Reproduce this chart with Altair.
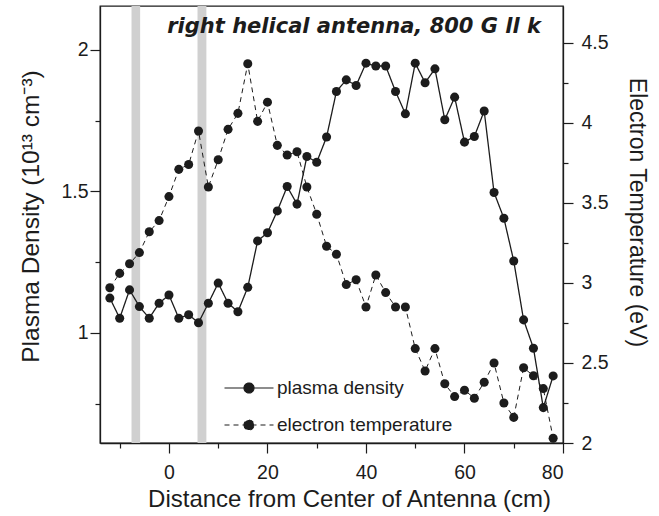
import altair as alt
import pandas as pd

# Probe positions along the axis (cm from antenna centre)
distance_cm = [-12, -10, -8, -6, -4, -2, 0, 2, 4, 6,
               8, 10, 12, 14, 16, 18, 20, 22, 24, 26,
               28, 30, 32, 34, 36, 38, 40, 42, 44, 46,
               48, 50, 52, 54, 56, 58, 60, 62, 64, 66,
               68, 70, 72, 74, 76, 78]

# Plasma density (10^13 cm^-3)
density = [1.123, 1.052, 1.152, 1.093, 1.052, 1.105, 1.134, 1.052, 1.064, 1.036,
           1.105, 1.176, 1.105, 1.075, 1.161, 1.325, 1.354, 1.431, 1.517, 1.455,
           1.623, 1.603, 1.692, 1.853, 1.894, 1.874, 1.953, 1.943, 1.943, 1.853,
           1.774, 1.953, 1.884, 1.933, 1.753, 1.833, 1.674, 1.694, 1.784, 1.496,
           1.405, 1.254, 1.046, 0.946, 0.736, 0.848]

# Electron temperature (eV)
temperature = [2.97, 3.06, 3.12, 3.19, 3.32, 3.39, 3.54, 3.71, 3.74, 3.95,
               3.60, 3.77, 3.96, 4.06, 4.37, 4.01, 4.13, 3.86, 3.80, 3.82,
               3.60, 3.43, 3.23, 3.18, 2.99, 3.02, 2.85, 3.05, 2.94, 2.85,
               2.85, 2.59, 2.45, 2.59, 2.37, 2.29, 2.33, 2.28, 2.38, 2.50,
               2.25, 2.16, 2.47, 2.42, 2.34, 2.03]

# Antenna end rings (cm)
band_start = [-7.6, 5.8]
band_end = [-5.85, 7.6]

series_names = ["plasma density", "electron temperature"]

profile = pd.DataFrame({"distance": distance_cm,
                        "density": density,
                        "temperature": temperature})
rings = pd.DataFrame({"start": band_start, "end": band_end})

INK = "#1c1c1c"
FONT = "Liberation Sans"

# legend glyph: horizontal stroke with a filled dot in the middle
LEGEND_GLYPH = ("M-2.45,0H2.45"
                "M-0.5,0A0.5,0.5,0,1,0,0.5,0A0.5,0.5,0,1,0,-0.5,0Z")

x_enc = alt.X(
    "distance:Q",
    scale=alt.Scale(domain=[-14, 80], nice=False, zero=False),
    axis=alt.Axis(
        values=[-10, 0, 10, 20, 30, 40, 50, 60, 70, 80],
        format="d",
        labelExpr="datum.value % 20 === 0 ? datum.label : ''",
        tickSize={"condition": {"test": "datum.value % 20 === 0", "value": 10}, "value": 5},
        labelPadding=10,
        title="Distance from Center of Antenna (cm)",
        titleFontSize=24,
        titleX=249, titleY=56, titleBaseline="middle", titleAlign="center",
    ),
)

dash = alt.StrokeDash(
    "series:N",
    scale=alt.Scale(domain=series_names, range=[[1, 0], [5, 4]]),
    legend=alt.Legend(
        title=None, orient="none", legendX=138, legendY=371,
        symbolType=LEGEND_GLYPH, symbolSize=400,
        symbolFillColor=INK, symbolStrokeColor=INK, symbolStrokeWidth=1.2,
        labelFont=FONT, labelFontSize=19, labelColor=INK, labelLimit=400,
        labelOffset=17, rowPadding=16, padding=0,
    ),
)

y_density = alt.Y(
    "density:Q",
    scale=alt.Scale(domain=[0.611, 2.155], nice=False, zero=False),
    axis=alt.Axis(
        orient="left",
        values=[0.75, 1, 1.25, 1.5, 1.75, 2],
        format="~g",
        labelExpr="datum.value % 0.5 === 0 ? datum.label : ''",
        tickSize={"condition": {"test": "datum.value % 0.5 === 0", "value": 10}, "value": 5},
        labelPadding=2,
        title="Plasma Density (10¹³ cm⁻³)",
        titleFontSize=24.5,
        titleX=-69, titleY=210, titleBaseline="middle", titleAlign="center",
    ),
)

y_temp = alt.Y(
    "temperature:Q",
    scale=alt.Scale(domain=[2.0, 4.731], nice=False, zero=False),
    axis=alt.Axis(
        orient="right",
        values=[2, 2.25, 2.5, 2.75, 3, 3.25, 3.5, 3.75, 4, 4.25, 4.5],
        format="~g",
        labelExpr="datum.value % 0.5 === 0 ? datum.label : ''",
        tickSize={"condition": {"test": "datum.value % 0.5 === 0", "value": 10}, "value": 5},
        labelPadding=8,
        title="Electron Temperature (eV)",
        titleFontSize=23,
        titleX=73, titleY=206, titleBaseline="middle", titleAlign="center",
    ),
)

ring_marks = alt.Chart(rings).mark_rect(color="#d0d0d0").encode(
    x=alt.X("start:Q", scale=alt.Scale(domain=[-14, 80], nice=False, zero=False)),
    x2="end:Q",
)

base = alt.Chart(profile)

density_line = base.transform_calculate(series="'plasma density'").mark_line(
    color=INK, strokeWidth=1.3
).encode(x=x_enc, y=y_density, strokeDash=dash)
density_pts = base.mark_circle(size=82, color=INK, opacity=1).encode(x=x_enc, y=y_density)

temp_line = base.transform_calculate(series="'electron temperature'").mark_line(
    color=INK, strokeWidth=1.0
).encode(x=x_enc, y=y_temp, strokeDash=dash)
temp_pts = base.mark_circle(size=82, color=INK, opacity=1).encode(x=x_enc, y=y_temp)

density_layer = alt.layer(ring_marks, density_line, density_pts)
temp_layer = alt.layer(temp_line, temp_pts)

chart = (
    alt.layer(density_layer, temp_layer)
    .resolve_scale(y="independent")
    .properties(
        width=463,
        height=437,
        autosize=alt.AutoSizeParams(type="none"),
        padding={"left": 100, "top": 6, "right": 96, "bottom": 73},
        background="white",
        title=alt.TitleParams(
            "right helical antenna, 800 G ll k",
            orient="none", anchor="end", frame="group", align="right",
            font="DejaVu Sans", fontSize=21, fontWeight="bold", fontStyle="italic",
            color=INK, baseline="alphabetic", offset=0, dx=441, dy=27,
        ),
    )
    .configure_view(stroke=INK, strokeWidth=1.3)
    .configure_axis(
        grid=False,
        labelFont=FONT, labelFontSize=19.5, labelColor=INK,
        titleFont=FONT, titleFontWeight="normal", titleColor=INK,
        domainColor=INK, domainWidth=1.3, tickColor=INK, tickWidth=1.2,
    )
)

chart.save("out.html", embed_options={"renderer": "svg", "actions": False})
